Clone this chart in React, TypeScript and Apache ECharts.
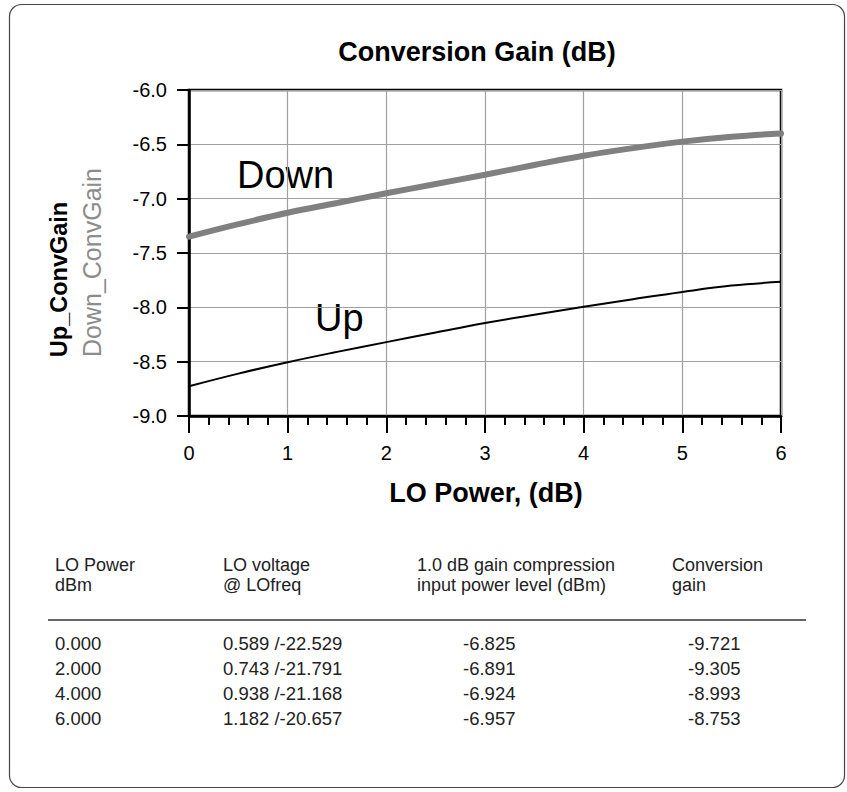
import React, { useEffect, useRef } from "react";
import * as echarts from "echarts";

// ---- chart data ----
const loPowerX = [0, 0.5, 1, 1.5, 2, 2.5, 3, 3.5, 4, 4.5, 5, 5.5, 6];
const downConvGain = [-7.35, -7.235, -7.13, -7.04, -6.95, -6.865, -6.78, -6.69, -6.605, -6.535, -6.475, -6.43, -6.4];
const upConvGain = [-8.726, -8.61, -8.505, -8.41, -8.32, -8.232, -8.145, -8.068, -7.995, -7.925, -7.858, -7.8, -7.765];

// ---- table data ----
const tableHeader1 = ["LO Power", "LO voltage", "1.0 dB gain compression", "Conversion"];
const tableHeader2 = ["dBm", "@ LOfreq", "input power level (dBm)", "gain"];
const colLoPower = ["0.000", "2.000", "4.000", "6.000"];
const colLoVoltage = ["0.589 /-22.529", "0.743 /-21.791", "0.938 /-21.168", "1.182 /-20.657"];
const colCompression = ["-6.825", "-6.891", "-6.924", "-6.957"];
const colConvGain = ["-9.721", "-9.305", "-8.993", "-8.753"];

const SANS = "'Liberation Sans', Arial, sans-serif";

export default function App() {
  const ref = useRef<HTMLDivElement>(null);
  useEffect(() => {
    if (!ref.current) return;
    const chart = echarts.init(ref.current, undefined, { renderer: "svg" });

    const tableFont = { fontFamily: SANS, fontSize: 18.5, fill: "#222" };
    const headFont = { fontFamily: SANS, fontSize: 18, fill: "#222" };
    const headX = [55, 223, 417, 672];
    const dataX = [55, 223, 463, 688];
    const graphics: any[] = [
      {
        type: "rect",
        shape: { x: 9.5, y: 4.5, width: 835, height: 783, r: 12 },
        style: { fill: "none", stroke: "#444", lineWidth: 1.2 },
        silent: true,
      },
      {
        type: "text",
        x: 477, y: 52,
        style: { text: "Conversion Gain (dB)", fontFamily: SANS, fontSize: 27, fontWeight: "bold", fill: "#000", textAlign: "center", textVerticalAlign: "middle" },
      },
      {
        type: "text",
        x: 486, y: 493,
        style: { text: "LO Power, (dB)", fontFamily: SANS, fontSize: 27, fontWeight: "bold", fill: "#000", textAlign: "center", textVerticalAlign: "middle" },
      },
      {
        type: "text",
        x: 59, y: 279.5, rotation: Math.PI / 2,
        style: { text: "Up_ConvGain", fontFamily: SANS, fontSize: 23.5, fontWeight: "bold", fill: "#000", textAlign: "center", textVerticalAlign: "middle" },
      },
      {
        type: "text",
        x: 92, y: 262.5, rotation: Math.PI / 2,
        style: { text: "Down_ConvGain", fontFamily: SANS, fontSize: 25, fill: "#8c8c8c", textAlign: "center", textVerticalAlign: "middle" },
      },
      {
        type: "text",
        x: 237, y: 175,
        style: { text: "Down", fontFamily: SANS, fontSize: 38, fill: "#000", textAlign: "left", textVerticalAlign: "middle" },
      },
      {
        type: "text",
        x: 315, y: 318,
        style: { text: "Up", fontFamily: SANS, fontSize: 38, fill: "#000", textAlign: "left", textVerticalAlign: "middle" },
      },
      {
        type: "line",
        shape: { x1: 48, y1: 620, x2: 806, y2: 620 },
        style: { stroke: "#333", lineWidth: 1.5 },
      },
    ];
    tableHeader1.forEach((t, i) => {
      graphics.push({ type: "text", x: headX[i], y: 565, style: { ...headFont, text: t, textAlign: "left", textVerticalAlign: "middle" } });
    });
    tableHeader2.forEach((t, i) => {
      graphics.push({ type: "text", x: headX[i], y: 584.5, style: { ...headFont, text: t, textAlign: "left", textVerticalAlign: "middle" } });
    });
    const cols = [colLoPower, colLoVoltage, colCompression, colConvGain];
    cols.forEach((col, ci) => {
      col.forEach((t, ri) => {
        graphics.push({ type: "text", x: dataX[ci], y: 643.5 + ri * 25, style: { ...tableFont, text: t, textAlign: "left", textVerticalAlign: "middle" } });
      });
    });

    chart.setOption({
      animation: false,
      backgroundColor: "#fff",
      grid: {
        left: 189, right: 66, top: 90, bottom: 376,
        show: true, borderColor: "#000", borderWidth: 2.5, backgroundColor: "transparent",
      },
      xAxis: {
        type: "value", min: 0, max: 6, interval: 1,
        axisLine: { show: true, onZero: false, lineStyle: { color: "#000", width: 2.5 } },
        axisTick: { show: true, inside: false, length: 17, lineStyle: { color: "#000", width: 2 } },
        minorTick: { show: true, splitNumber: 5, length: 9, lineStyle: { color: "#000", width: 2 } },
        axisLabel: { color: "#000", fontFamily: SANS, fontSize: 20, margin: 27 },
        splitLine: { show: true, lineStyle: { color: "#a0a0a0", width: 1.2 } },
      },
      yAxis: {
        type: "value", min: -9, max: -6, interval: 0.5,
        axisLine: { show: true, onZero: false, lineStyle: { color: "#000", width: 2.5 } },
        axisTick: { show: true, inside: false, length: 12, lineStyle: { color: "#000", width: 2 } },
        axisLabel: { color: "#000", fontFamily: SANS, fontSize: 20, margin: 22, formatter: (v: number) => v.toFixed(1) },
        splitLine: { show: true, lineStyle: { color: "#a0a0a0", width: 1.2 } },
      },
      series: [
        {
          name: "Down_ConvGain", type: "line", smooth: 0.4, showSymbol: false,
          data: loPowerX.map((x, i) => [x, downConvGain[i]]),
          lineStyle: { color: "#808080", width: 6, cap: "round" },
          itemStyle: { color: "#808080" },
        },
        {
          name: "Up_ConvGain", type: "line", smooth: 0.4, showSymbol: false,
          data: loPowerX.map((x, i) => [x, upConvGain[i]]),
          lineStyle: { color: "#000", width: 2 },
          itemStyle: { color: "#000" },
        },
      ],
      graphic: graphics,
    });
    return () => chart.dispose();
  }, []);
  return <div ref={ref} style={{ position: "absolute", left: 0, top: 0, width: 847, height: 792 }} />;
}
